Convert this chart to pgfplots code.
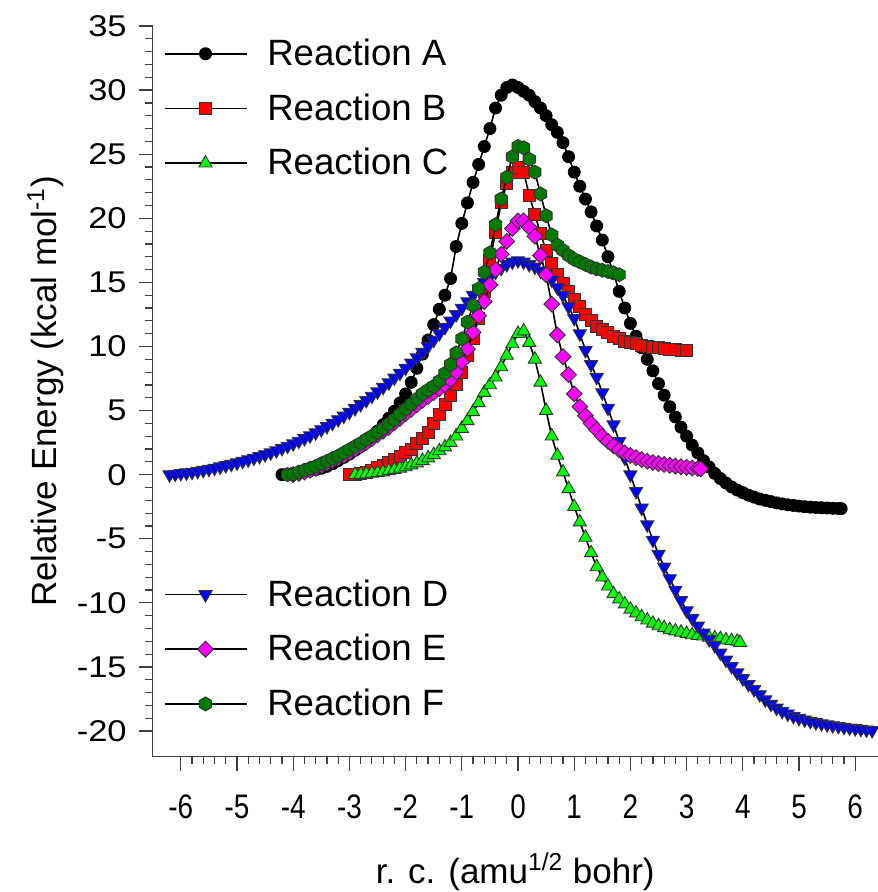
\documentclass[border=0pt]{standalone}
\usepackage{pgfplots}
\pgfplotsset{compat=1.18}
\usepackage{fontspec}
\setmainfont{Liberation Sans}
\usepackage{graphicx}

\definecolor{hexgreen}{rgb}{0,0.48,0}
\definecolor{mag}{rgb}{1,0,1}
\definecolor{lime}{rgb}{0,1,0}

% hexagon mark, vertex on top
\pgfdeclareplotmark{hexagon*}{%
  \pgfpathmoveto{\pgfqpointpolar{90}{\pgfplotmarksize}}%
  \pgfpathlineto{\pgfqpointpolar{150}{\pgfplotmarksize}}%
  \pgfpathlineto{\pgfqpointpolar{210}{\pgfplotmarksize}}%
  \pgfpathlineto{\pgfqpointpolar{270}{\pgfplotmarksize}}%
  \pgfpathlineto{\pgfqpointpolar{330}{\pgfplotmarksize}}%
  \pgfpathlineto{\pgfqpointpolar{30}{\pgfplotmarksize}}%
  \pgfpathclose
  \pgfusepathqfillstroke}

\tikzset{mk/.style={draw=black!80, line width=0.45pt}}

\pgfplotsset{
  base/.style={
    scale only axis, width=362.5pt, height=365.35pt,
    xmin=-6.5, xmax=6.4, ymin=-22, ymax=35,
    clip=false,
    legend style={draw=none, fill=none, inner sep=0pt, outer sep=0pt,
      font=\fontsize{18.3}{22}\selectfont, row sep=8.6pt,
      /tikz/every odd column/.append style={column sep=8pt}},
    legend cell align=left,
    legend image code/.code={\draw[mark repeat=2,mark phase=2]
      plot coordinates {(0pt,0pt) (20.5pt,0pt) (41pt,0pt)};},
  },
  ser/.style={black, line width=0.8pt},
}

\begin{document}
\begin{tikzpicture}
\begin{axis}[base,
  axis x line=bottom, axis y line=left,
  axis line style={-, black!75, line width=0.7pt},
  tick style={black!75, line width=0.6pt},
  tick align=outside,
  major tick length=7pt, minor tick length=3.75pt,
  xtick={-6,-5,...,6}, ytick={-20,-15,...,35},
  minor x tick num=4, minor y tick num=4,
  /pgf/number format/assume math mode=true,
  xticklabel={\scalebox{0.82}[1]{\pgfmathprintnumber{\tick}}},
  yticklabel={\scalebox{1.15}[1]{\pgfmathprintnumber{\tick}}},
  xticklabel style={font=\fontsize{17}{20}\selectfont, yshift=-8.5pt},
  yticklabel style={font=\fontsize{15}{18}\selectfont, xshift=-2.5pt},
  xlabel={r. c. (amu\textsuperscript{1/2} bohr)},
  ylabel={Relative Energy (kcal mol\textsuperscript{-1})},
  every axis x label/.style={at={(rel axis cs:0.5,0)}, yshift=-57.5pt, anchor=center,
    font=\fontsize{17.5}{21}\selectfont},
  every axis y label/.style={at={(rel axis cs:0,0.5)}, xshift=-53.5pt, rotate=90, anchor=center,
    font=\fontsize{17.5}{21}\selectfont},
  legend style={at={(rel axis cs:0,1)}, anchor=north west, xshift=5.5pt, yshift=-4.5pt},
]
% Reaction A
\addplot[ser, mark=*, mark size=3.0pt, mark options={mk, fill=black, draw=black}] table {
-4.2 0.0
-4.1 0.05
-4.0 0.1
-3.9 0.15
-3.8 0.2
-3.7 0.3
-3.6 0.4
-3.5 0.5
-3.4 0.65
-3.3 0.85
-3.2 1.1
-3.1 1.35
-3.0 1.6
-2.9 1.9
-2.8 2.2
-2.7 2.5
-2.6 2.95
-2.5 3.4
-2.4 3.9
-2.3 4.4
-2.2 4.95
-2.1 5.6
-2.0 6.3
-1.9 7.2
-1.8 8.3
-1.7 9.4
-1.6 10.5
-1.5 11.7
-1.4 12.9
-1.3 14.0
-1.2 15.3
-1.1 17.8
-1.0 19.6
-0.9 21.2
-0.8 22.8
-0.7 24.2
-0.6 25.6
-0.5 27.0
-0.4 28.6
-0.3 29.6
-0.2 30.2
-0.1 30.4
0.0 30.2
0.1 29.9
0.2 29.6
0.3 29.1
0.4 28.6
0.5 28.0
0.6 27.3
0.7 26.7
0.8 25.9
0.9 24.8
1.0 23.6
1.1 22.5
1.2 21.5
1.3 20.5
1.4 19.4
1.5 18.3
1.6 17.0
1.7 15.7
1.8 14.3
1.9 13.0
2.0 11.8
2.1 10.8
2.2 9.9
2.3 9.0
2.4 8.1
2.5 7.1
2.6 6.2
2.7 5.3
2.8 4.5
2.9 3.7
3.0 3.0
3.1 2.3
3.2 1.7
3.3 1.1
3.4 0.6
3.5 0.1
3.6 -0.3
3.7 -0.65
3.8 -0.95
3.9 -1.2
4.0 -1.4
4.1 -1.6
4.2 -1.75
4.3 -1.9
4.4 -2.0
4.5 -2.1
4.6 -2.2
4.7 -2.28
4.8 -2.35
4.9 -2.4
5.0 -2.45
5.1 -2.5
5.2 -2.53
5.3 -2.56
5.4 -2.58
5.5 -2.6
5.6 -2.62
5.7 -2.64
5.75 -2.65
};
\addlegendentry{Reaction A}
% Reaction B
\addplot[ser, mark=square*, mark size=3.0pt, mark options={mk, fill=red}] table {
-3.0 0.0
-2.9 0.05
-2.8 0.1
-2.7 0.2
-2.6 0.35
-2.5 0.55
-2.4 0.75
-2.3 0.95
-2.2 1.2
-2.1 1.45
-2.0 1.7
-1.9 2.0
-1.8 2.4
-1.7 2.8
-1.6 3.3
-1.5 4.0
-1.4 4.7
-1.3 5.5
-1.2 6.2
-1.1 7.0
-1.0 8.0
-0.9 9.3
-0.8 10.6
-0.7 12.2
-0.6 14.3
-0.5 16.7
-0.4 18.9
-0.3 21.2
-0.2 22.7
-0.1 23.6
0.0 24.0
0.1 23.6
0.2 21.8
0.3 20.3
0.4 18.8
0.5 17.5
0.6 16.5
0.7 15.6
0.8 14.9
0.9 14.3
1.0 13.7
1.1 13.1
1.2 12.5
1.3 12.0
1.4 11.6
1.5 11.3
1.6 11.1
1.7 10.8
1.8 10.6
1.9 10.4
2.0 10.3
2.1 10.2
2.2 10.1
2.3 10.0
2.4 9.95
2.5 9.9
2.6 9.85
2.7 9.8
2.8 9.75
2.9 9.7
3.0 9.7
};
\addlegendentry{Reaction B}
% Reaction C
\addplot[ser, mark=triangle*, mark size=3.8pt, mark options={mk, fill=lime}] table {
-2.9 0.0
-2.8 0.02
-2.7 0.05
-2.6 0.1
-2.5 0.15
-2.4 0.2
-2.3 0.3
-2.2 0.4
-2.1 0.5
-2.0 0.6
-1.9 0.75
-1.8 0.9
-1.7 1.1
-1.6 1.3
-1.5 1.55
-1.4 1.85
-1.3 2.15
-1.2 2.5
-1.1 3.0
-1.0 3.6
-0.9 4.2
-0.8 4.9
-0.7 5.6
-0.6 6.4
-0.5 7.0
-0.4 7.6
-0.3 8.4
-0.2 9.3
-0.1 10.2
0.0 11.0
0.1 11.2
0.2 10.3
0.3 9.0
0.4 7.2
0.5 5.0
0.6 3.0
0.7 1.5
0.8 0.2
0.9 -1.1
1.0 -2.5
1.1 -3.7
1.2 -4.9
1.3 -6.1
1.4 -7.2
1.5 -8.0
1.6 -8.7
1.7 -9.3
1.8 -9.7
1.9 -10.1
2.0 -10.5
2.1 -10.8
2.2 -11.1
2.3 -11.35
2.4 -11.6
2.5 -11.8
2.6 -11.95
2.7 -12.1
2.8 -12.2
2.9 -12.3
3.0 -12.4
3.1 -12.5
3.2 -12.55
3.3 -12.6
3.4 -12.7
3.5 -12.75
3.6 -12.8
3.7 -12.9
3.8 -12.95
3.9 -13.0
3.95 -13.1
};
\addlegendentry{Reaction C}
\end{axis}

\begin{axis}[base, hide axis,
  legend style={at={(rel axis cs:0,0)}, anchor=south west, xshift=5.5pt, yshift=17pt},
]
% Reaction D
\addplot[ser, mark=triangle*, mark size=3.8pt, mark options={mk, rotate=180, fill=blue}] table {
-6.2 0.0
-6.1 0.05
-6.0 0.1
-5.9 0.15
-5.8 0.2
-5.7 0.27
-5.6 0.35
-5.5 0.43
-5.4 0.52
-5.3 0.62
-5.2 0.72
-5.1 0.82
-5.0 0.93
-4.9 1.05
-4.8 1.17
-4.7 1.3
-4.6 1.43
-4.5 1.57
-4.4 1.72
-4.3 1.88
-4.2 2.05
-4.1 2.23
-4.0 2.42
-3.9 2.62
-3.8 2.83
-3.7 3.05
-3.6 3.28
-3.5 3.52
-3.4 3.77
-3.3 4.03
-3.2 4.3
-3.1 4.58
-3.0 4.87
-2.9 5.17
-2.8 5.48
-2.7 5.8
-2.6 6.13
-2.5 6.47
-2.4 6.82
-2.3 7.18
-2.2 7.55
-2.1 7.93
-2.0 8.32
-1.9 8.72
-1.8 9.13
-1.7 9.55
-1.6 10.0
-1.5 10.5
-1.4 11.0
-1.3 11.5
-1.2 12.0
-1.1 12.5
-1.0 13.0
-0.9 13.5
-0.8 14.0
-0.7 14.5
-0.6 15.0
-0.5 15.4
-0.4 15.8
-0.3 16.1
-0.2 16.4
-0.1 16.6
0.0 16.7
0.1 16.6
0.2 16.4
0.3 16.2
0.4 15.9
0.5 15.6
0.6 15.2
0.7 14.6
0.8 14.0
0.9 13.1
1.0 12.2
1.1 11.0
1.2 9.7
1.3 8.6
1.4 7.6
1.5 6.4
1.6 5.2
1.7 3.9
1.8 2.6
1.9 1.3
2.0 0.0
2.1 -1.3
2.2 -2.6
2.3 -3.9
2.4 -5.1
2.5 -6.2
2.6 -7.2
2.7 -8.1
2.8 -9.0
2.9 -9.8
3.0 -10.6
3.1 -11.2
3.2 -11.8
3.3 -12.35
3.4 -12.85
3.5 -13.3
3.6 -13.9
3.7 -14.45
3.8 -14.95
3.9 -15.45
4.0 -15.9
4.1 -16.35
4.2 -16.75
4.3 -17.15
4.4 -17.55
4.5 -17.9
4.6 -18.2
4.7 -18.45
4.8 -18.65
4.9 -18.85
5.0 -19.0
5.1 -19.12
5.2 -19.23
5.3 -19.33
5.4 -19.42
5.5 -19.5
5.6 -19.57
5.7 -19.63
5.8 -19.7
5.9 -19.75
6.0 -19.8
6.1 -19.85
6.2 -19.9
6.3 -19.95
};
\addlegendentry{Reaction D}
% Reaction E
\addplot[ser, mark=square*, mark size=2.8pt, mark options={mk, rotate=45, fill=mag}] table {
-4.0 0.0
-3.9 0.1
-3.8 0.2
-3.7 0.35
-3.6 0.5
-3.5 0.7
-3.4 0.9
-3.3 1.1
-3.2 1.3
-3.1 1.5
-3.0 1.75
-2.9 2.0
-2.8 2.25
-2.7 2.5
-2.6 2.8
-2.5 3.1
-2.4 3.4
-2.3 3.7
-2.2 4.05
-2.1 4.4
-2.0 4.75
-1.9 5.1
-1.8 5.45
-1.7 5.8
-1.6 6.1
-1.5 6.4
-1.4 6.7
-1.3 7.0
-1.2 7.4
-1.1 8.0
-1.0 8.8
-0.9 9.8
-0.8 11.1
-0.7 12.4
-0.6 13.5
-0.5 14.8
-0.4 16.0
-0.3 17.2
-0.2 18.2
-0.1 19.2
0.0 19.8
0.1 19.8
0.2 19.3
0.3 18.6
0.4 17.1
0.5 15.6
0.6 13.3
0.7 10.9
0.8 9.2
0.9 7.8
1.0 6.3
1.1 5.3
1.2 4.6
1.3 4.0
1.4 3.5
1.5 3.0
1.6 2.6
1.7 2.25
1.8 1.95
1.9 1.7
2.0 1.5
2.1 1.33
2.2 1.18
2.3 1.05
2.4 0.95
2.5 0.87
2.6 0.8
2.7 0.73
2.8 0.67
2.9 0.62
3.0 0.57
3.1 0.52
3.2 0.48
3.25 0.45
};
\addlegendentry{Reaction E}
% Reaction F
\addplot[ser, mark=hexagon*, mark size=3.5pt, mark options={mk, fill=hexgreen}] table {
-4.1 0.0
-4.0 0.05
-3.9 0.2
-3.8 0.35
-3.7 0.5
-3.6 0.65
-3.5 0.85
-3.4 1.05
-3.3 1.25
-3.2 1.45
-3.1 1.7
-3.0 1.95
-2.9 2.2
-2.8 2.45
-2.7 2.75
-2.6 3.0
-2.5 3.3
-2.4 3.6
-2.3 3.95
-2.2 4.3
-2.1 4.7
-2.0 5.1
-1.9 5.5
-1.8 5.9
-1.7 6.3
-1.6 6.6
-1.5 6.9
-1.4 7.3
-1.3 7.9
-1.2 8.6
-1.1 9.5
-1.0 10.6
-0.9 11.9
-0.8 13.2
-0.7 14.5
-0.6 15.8
-0.5 17.3
-0.4 19.5
-0.3 21.5
-0.2 23.2
-0.1 24.8
0.0 25.6
0.1 25.5
0.2 24.6
0.3 23.6
0.4 21.9
0.5 20.2
0.6 18.7
0.7 17.9
0.8 17.5
0.9 17.1
1.0 16.8
1.1 16.6
1.2 16.4
1.3 16.2
1.4 16.05
1.5 15.95
1.6 15.85
1.7 15.75
1.8 15.6
};
\addlegendentry{Reaction F}
\end{axis}
\pgfresetboundingbox
\path (-76.35pt,-67.65pt) rectangle (362.15pt,378.35pt);
\end{tikzpicture}
\end{document}
